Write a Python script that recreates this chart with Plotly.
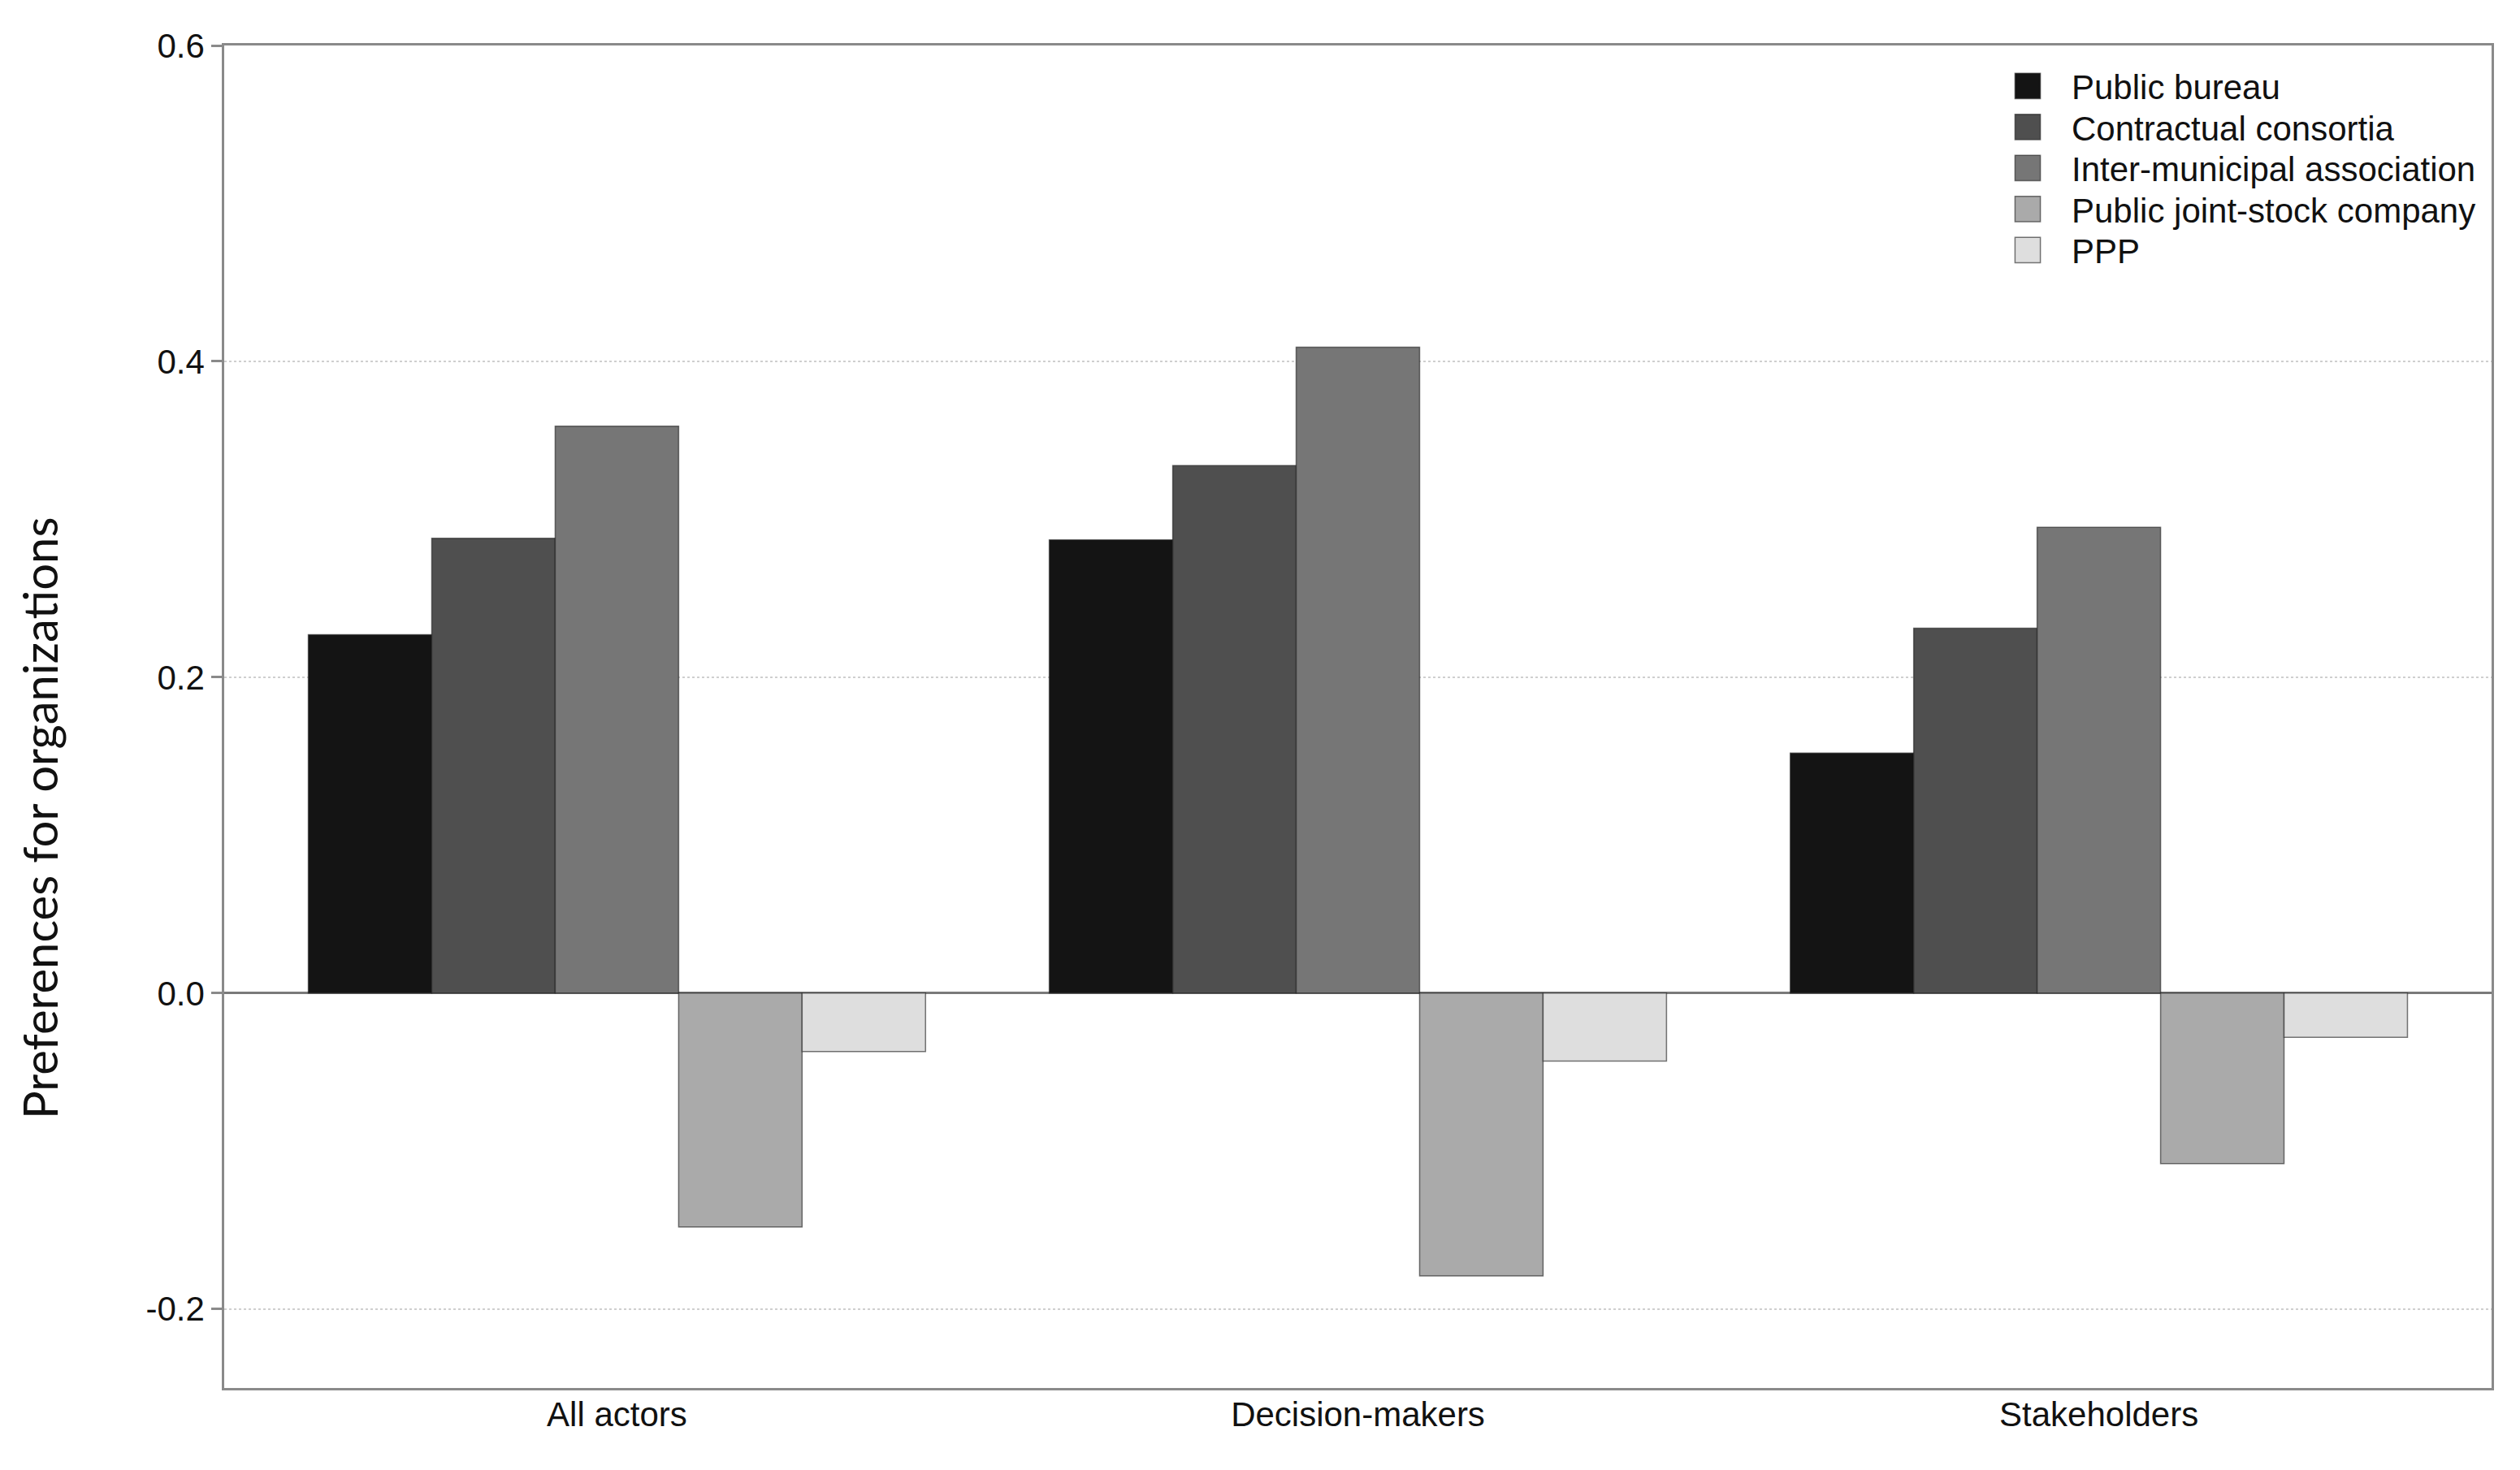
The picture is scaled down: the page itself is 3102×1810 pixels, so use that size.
import plotly.graph_objects as go

categories = ["All actors", "Decision-makers", "Stakeholders"]
series_names = ["Public bureau", "Contractual consortia", "Inter-municipal association",
                "Public joint-stock company", "PPP"]
public_bureau = [0.227, 0.287, 0.152]
contractual_consortia = [0.288, 0.334, 0.231]
inter_municipal = [0.359, 0.409, 0.295]
public_jsc = [-0.148, -0.179, -0.108]
ppp = [-0.037, -0.043, -0.028]
series_values = [public_bureau, contractual_consortia, inter_municipal, public_jsc, ppp]
colors = ["#141414", "#4f4f4f", "#767676", "#aaaaaa", "#dedede"]
y_tickvals = [-0.2, 0.0, 0.2, 0.4, 0.6]
y_ticktext = ["-0.2", "0.0", "0.2", "0.4", "0.6"]
y_title = "Preferences for organizations"

# page has an 8px body margin, so the figure is sized to fit inside it
W, H = 3086, 1794
L, R, T, B = 268, 27, 48, 93
PW, PH = W - L - R, H - T - B

fig = go.Figure()
for name, vals, col in zip(series_names, series_values, colors):
    fig.add_trace(go.Bar(
        name=name, x=categories, y=vals,
        marker=dict(color=col, line=dict(color="rgba(30,30,30,0.6)", width=1.5)),
    ))

font_main = "Liberation Sans, Arial, sans-serif"
fig.update_layout(
    width=W, height=H,
    margin=dict(l=L, r=R, t=T, b=B, pad=0),
    paper_bgcolor="white", plot_bgcolor="white",
    barmode="group", bargap=0.167, bargroupgap=0,
    font=dict(family=font_main, size=42, color="#111111"),
    showlegend=True,
    legend=dict(
        x=(2434 - L) / PW, y=(H - B - 64) / PH,
        xanchor="left", yanchor="top",
        font=dict(family=font_main, size=42, color="#111111"),
        itemwidth=98, bgcolor="rgba(0,0,0,0)", tracegroupgap=0,
        traceorder="normal",
    ),
    xaxis=dict(
        type="category", range=[-0.53, 2.53],
        showline=True, linecolor="#8a8a8a", linewidth=2.5, mirror=True,
        ticks="", showgrid=False, ticklabelstandoff=-6,
        tickfont=dict(family=font_main, size=42, color="#111111"),
    ),
    yaxis=dict(
        range=[-0.25, 0.6],
        tickvals=y_tickvals, ticktext=y_ticktext,
        showline=True, linecolor="#8a8a8a", linewidth=2.5, mirror=True,
        ticks="outside", ticklen=13, tickwidth=2.5, tickcolor="#8a8a8a",
        showgrid=True, gridcolor="#cfcfcf", gridwidth=2, griddash="dot",
        zeroline=True, zerolinecolor="#7a7a7a", zerolinewidth=2.5,
        tickfont=dict(family=font_main, size=42, color="#111111"),
    ),
)

fig.add_annotation(
    text=y_title, textangle=-90, showarrow=False,
    xref="paper", yref="paper",
    x=(40 - L) / PW, y=(H - B - 999) / PH,
    xanchor="center", yanchor="middle",
    font=dict(family="Lato, Noto Sans, sans-serif", size=58, color="#111111"),
)

post = """
var gd = document.getElementsByClassName('plotly-graph-div')[0];
function fixLegend(){
  gd.querySelectorAll('.legend .legendpoints path').forEach(function(p){
    var t = p.getAttribute('data-orig');
    if (t === null) { t = p.getAttribute('transform') || ''; p.setAttribute('data-orig', t); }
    p.setAttribute('transform', t + ' scale(2.6)');
    p.setAttribute('vector-effect', 'non-scaling-stroke');
  });
  var items = gd.querySelectorAll('.legend .traces');
  var y0 = null;
  items.forEach(function(g, i){
    var t = g.getAttribute('transform') || '';
    var m = /translate\\(\\s*([-\\d.e]+)[ ,]+([-\\d.e]+)\\s*\\)/.exec(t);
    if (!m) return;
    var x = parseFloat(m[1]), y = parseFloat(m[2]);
    if (y0 === null) y0 = y;
    g.setAttribute('transform', 'translate(' + x + ',' + (y0 + i * 50.5) + ')');
  });
}
fixLegend();
gd.on('plotly_afterplot', fixLegend);
"""

fig.write_html("out.html", post_script=post)
